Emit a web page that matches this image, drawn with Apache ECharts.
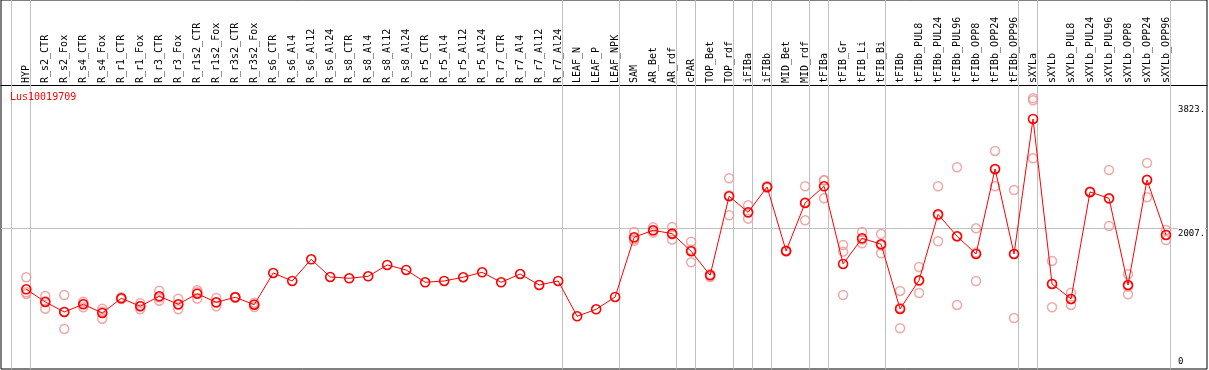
<!DOCTYPE html>
<html>
<head>
<meta charset="utf-8">
<script src="https://cdn.jsdelivr.net/npm/echarts@6/dist/echarts.min.js"></script>
<style>
html,body{margin:0;padding:0;background:#fff;}
#chart{width:1209px;height:370px;}
</style>
</head>
<body>
<div id="chart"></div>
<script>
var categories = ["HYP","R_s2_CTR","R_s2_Fox","R_s4_CTR","R_s4_Fox","R_r1_CTR","R_r1_Fox","R_r3_CTR","R_r3_Fox","R_r1s2_CTR","R_r1s2_Fox","R_r3s2_CTR","R_r3s2_Fox","R_s6_CTR","R_s6_Al4","R_s6_Al12","R_s6_Al24","R_s8_CTR","R_s8_Al4","R_s8_Al12","R_s8_Al24","R_r5_CTR","R_r5_Al4","R_r5_Al12","R_r5_Al24","R_r7_CTR","R_r7_Al4","R_r7_Al12","R_r7_Al24","LEAF_N","LEAF_P","LEAF_NPK","SAM","AR_Bet","AR_rdf","cPAR","TOP_Bet","TOP_rdf","iFIBa","iFIBb","MID_Bet","MID_rdf","tFIBa","tFIB_Gr","tFIB_Li","tFIB_Bi","tFIBb","tFIBb_PUL8","tFIBb_PUL24","tFIBb_PUL96","tFIBb_OPP8","tFIBb_OPP24","tFIBb_OPP96","sXYLa","sXYLb","sXYLb_PUL8","sXYLb_PUL24","sXYLb_PUL96","sXYLb_OPP8","sXYLb_OPP24","sXYLb_OPP96"];

var meanValues = [1109,922,775,888,760,976,859,1006,888,1044,917,991,882,1349,1231,1551,1290,1271,1300,1467,1393,1212,1231,1286,1359,1212,1334,1172,1231,711,814,996,1875,1978,1928,1669,1315,2479,2243,2616,1673,2380,2626,1482,1860,1772,819,1241,2213,1890,1629,2881,1629,3617,1187,966,2542,2449,1172,2719,1909];

var rep1 = [1286,1010,1025,926,823,990,903,1089,971,1094,981,1000,912,null,null,null,null,null,null,null,null,null,null,null,null,null,null,null,null,null,null,null,1953,2022,2027,1810,1290,2744,2346,2630,1680,2626,2719,1761,1953,1923,1084,1437,2626,2906,2007,3146,2571,3922,1526,1059,2550,2866,1330,2969,1982];
var rep2 = [1065,823,524,844,676,965,814,941,814,971,859,985,848,null,null,null,null,null,null,null,null,null,null,null,null,null,null,null,null,null,null,null,1850,1943,1840,1507,1330,2199,2149,2605,1665,2125,2449,1663,1786,1639,535,1054,1816,878,1231,2626,686,3892,844,878,2535,2041,1035,2464,1835];
var rep3 = [1040,933,776,894,781,973,860,988,879,1067,911,988,886,null,null,null,null,null,null,null,null,null,null,null,null,null,null,null,null,null,null,null,1822,1969,1917,1690,1325,2494,2234,2613,1674,2389,2710,1025,1841,1754,838,1232,2197,1886,1649,2871,1630,3038,1191,961,2541,2440,1151,2724,1910];

var yTickValues = [0, 2007, 3823];
var refLineValue = 2007;
var groupEnds = [-1,0,28,31,34,35,37,38,39,41,42,45,52,53,60];

var MONO = "'DejaVu Sans Mono', 'Liberation Mono', monospace";

var repData = [];
[rep1, rep2, rep3].forEach(function (arr) {
  arr.forEach(function (v, i) { if (v !== null) repData.push([i, v]); });
});
var meanData = meanValues.map(function (v, i) { return [i, v]; });

var chart = echarts.init(document.getElementById('chart'), null, {renderer: 'canvas'});
chart.setOption({
  animation: false,
  backgroundColor: '#fff',
  title: {
    text: 'Lus10019709', left: 10, top: 92, padding: 0,
    textStyle: {color: '#ff0000', fontSize: 10, fontFamily: MONO, fontWeight: 'normal'}
  },
  grid: {left: 1, right: 2, top: 0, bottom: 1, show: true, borderColor: '#000', borderWidth: 1, backgroundColor: 'transparent'},
  xAxis: {
    type: 'value', position: 'top', offset: -85,
    min: -1.3316, max: 62.158,
    axisLine: {show: true, onZero: false, lineStyle: {color: '#000', width: 1}},
    axisTick: {show: false},
    splitLine: {show: false},
    axisLabel: {
      customValues: categories.map(function (c, i) { return i; }),
      formatter: function (v) { return categories[Math.round(v)]; },
      rotate: -90, margin: 2,
      fontFamily: MONO, fontSize: 10, color: '#000'
    }
  },
  yAxis: {
    type: 'value', position: 'right', z: 4,
    min: -65.2, max: 5369.4,
    axisLine: {show: false, onZero: false},
    axisTick: {show: false},
    splitLine: {show: false},
    axisLabel: {
      inside: true, customValues: yTickValues, margin: 29, align: 'left', verticalAlign: 'middle',
      fontFamily: MONO, fontSize: 9, color: '#000',
      formatter: function (v) { return v === 0 ? '{z|0}' : '{t|' + v + '.}'; },
      rich: {
        t: {fontFamily: MONO, fontSize: 9, color: '#000', padding: [10, 0, 0, 0], backgroundColor: '#fff'},
        z: {fontFamily: MONO, fontSize: 9, color: '#000', padding: [0, 0, 5, 0]}
      }
    }
  },
  series: [
    {
      type: 'scatter', data: repData, symbol: 'circle', symbolSize: 9, z: 2,
      itemStyle: {color: 'rgba(0,0,0,0)', borderColor: '#ec9494', borderWidth: 1.5},
      silent: true
    },
    {
      type: 'line', data: meanData, symbol: 'circle', symbolSize: 9, z: 3,
      lineStyle: {color: '#ff0000', width: 1},
      itemStyle: {color: 'rgba(0,0,0,0)', borderColor: '#ff0000', borderWidth: 1.6},
      silent: true,
      markLine: {
        silent: true, z: 1, symbol: ['none', 'none'], label: {show: false},
        lineStyle: {color: '#c0c0c0', type: 'solid', width: 1},
        emphasis: {disabled: true},
        data: groupEnds.map(function (e) { return {xAxis: e + 0.22}; }).concat([{yAxis: refLineValue}])
      }
    }
  ]
});
</script>
</body>
</html>
